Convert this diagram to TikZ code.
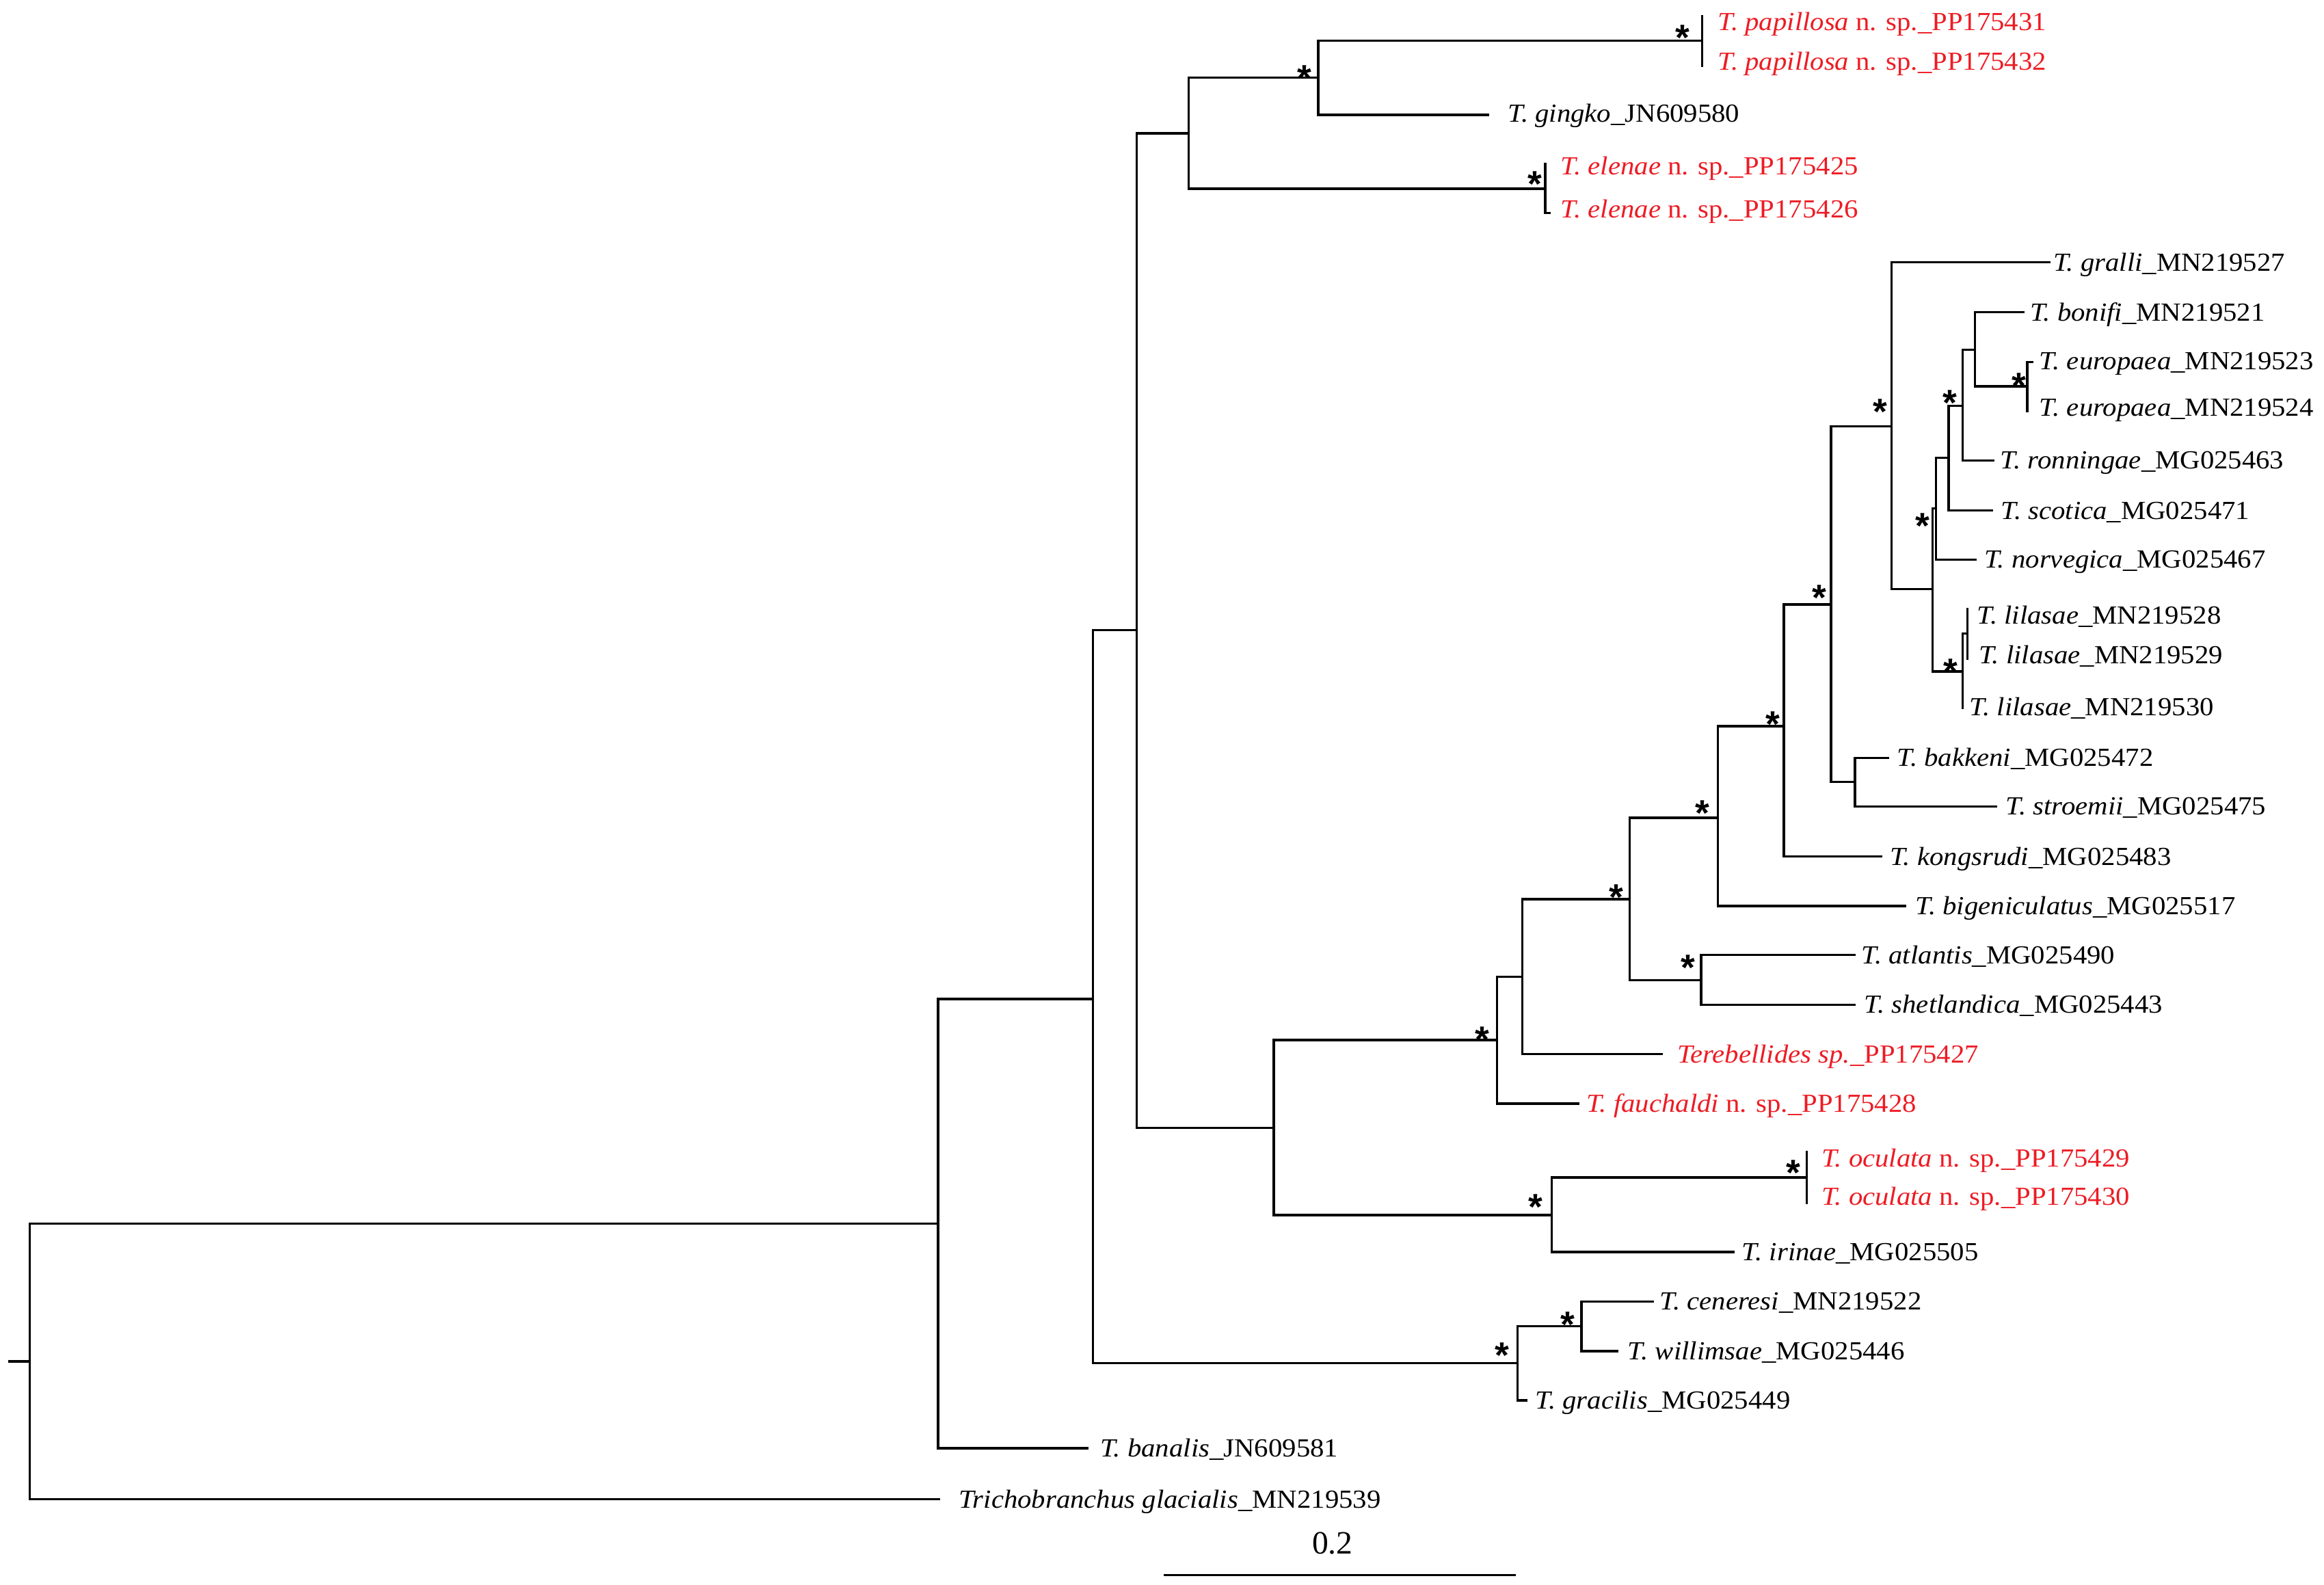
\documentclass[tikz,border=0pt]{standalone}
\usepackage{fontspec}
\setmainfont{Liberation Serif}[FakeStretch=1.07]
\newfontfamily\scalefont{Liberation Serif}
\newfontfamily\starfont{Liberation Sans}
\definecolor{nsp}{RGB}{237,28,36}
\begin{document}
\begin{tikzpicture}[x=0.2mm,y=-0.2mm,
  br/.style={line width=0.9pt,line cap=rect},
  lab/.style={anchor=base west,inner sep=0pt,yshift=-3.3pt,font=\fontsize{10}{12}\selectfont},
  newsp/.style={lab,text=nsp},
  st/.style={anchor=base,inner sep=0pt,yshift=-8pt,font=\starfont\bfseries\fontsize{14}{14}\selectfont}]
\useasboundingbox (0,0) rectangle (1568,1069);
% internal nodes
\coordinate (R0) at (6.2,918.4);
\coordinate (R) at (20,918.4);
\coordinate (A) at (633,825.6);
\coordinate (B) at (737.5,674);
\coordinate (C) at (767,425);
\coordinate (D) at (1023.8,919.7);
\coordinate (E) at (802,90);
\coordinate (F) at (859.5,761);
\coordinate (G) at (889.3,52.3);
\coordinate (H) at (1042.5,127.3);
\coordinate (P) at (1148.3,27.4);
\coordinate (I) at (1010.1,701.7);
\coordinate (J) at (1047,819.8);
\coordinate (K) at (1027,658.9);
\coordinate (L) at (1099.6,606.6);
\coordinate (M) at (1158.9,551.7);
\coordinate (N) at (1147.8,661.2);
\coordinate (O) at (1203.6,490);
\coordinate (Q) at (1235.4,407.8);
\coordinate (S) at (1276.3,287.5);
\coordinate (T) at (1251.6,527.6);
\coordinate (U) at (1304,397.5);
\coordinate (V) at (1306.3,343);
\coordinate (W) at (1314.8,308.8);
\coordinate (X) at (1324.3,273.7);
\coordinate (Y) at (1332.5,236);
\coordinate (Z) at (1367.8,260.6);
\coordinate (L1) at (1324.3,453);
\coordinate (L2) at (1327.3,427.5);
\coordinate (OC) at (1219,794.4);
\coordinate (CW) at (1067,894.6);
% tips
\coordinate (tTri) at (633.5,1011.5);
\coordinate (tBan) at (733.5,977);
\coordinate (tPap1) at (1148.3,10.8);
\coordinate (tPap2) at (1148.3,44.6);
\coordinate (tGin) at (1003.8,77.4);
\coordinate (tEle1) at (1042.5,110.7);
\coordinate (tEle2) at (1045.5,143.8);
\coordinate (tFau) at (1064.7,744.6);
\coordinate (tTsp) at (1121,711.2);
\coordinate (tBig) at (1285.5,611.3);
\coordinate (tKon) at (1269,577.9);
\coordinate (tGra) at (1382.6,176.8);
\coordinate (tNor) at (1333,377.5);
\coordinate (tSco) at (1344,344.4);
\coordinate (tRon) at (1344.8,310.6);
\coordinate (tBon) at (1365,210.7);
\coordinate (tEur1) at (1371.3,244.2);
\coordinate (tEur2) at (1367.8,277.6);
\coordinate (tLil1) at (1327.3,410.9);
\coordinate (tLil2) at (1327.3,444.4);
\coordinate (tLil3) at (1324.3,477.5);
\coordinate (tBak) at (1274,511.3);
\coordinate (tStr) at (1346.7,544);
\coordinate (tAtl) at (1251,644.3);
\coordinate (tShe) at (1251,677.8);
\coordinate (tOc1) at (1219,777);
\coordinate (tOc2) at (1219,811.7);
\coordinate (tIri) at (1169.6,844.7);
\coordinate (tGrc) at (1029.7,944.8);
\coordinate (tCen) at (1115,878);
\coordinate (tWil) at (1091,911.6);
% branches
\draw[br] (R0) -- (R);
\draw[br] (R) |- (A); \draw[br] (R) |- (tTri);
\draw[br] (A) |- (B); \draw[br] (A) |- (tBan);
\draw[br] (B) |- (C); \draw[br] (B) |- (D);
\draw[br] (C) |- (E); \draw[br] (C) |- (F);
\draw[br] (E) |- (G); \draw[br] (E) |- (H);
\draw[br] (G) |- (P); \draw[br] (G) |- (tGin);
\draw[br] (P) |- (tPap1); \draw[br] (P) |- (tPap2);
\draw[br] (H) |- (tEle1); \draw[br] (H) |- (tEle2);
\draw[br] (F) |- (I); \draw[br] (F) |- (J);
\draw[br] (I) |- (K); \draw[br] (I) |- (tFau);
\draw[br] (K) |- (L); \draw[br] (K) |- (tTsp);
\draw[br] (L) |- (M); \draw[br] (L) |- (N);
\draw[br] (M) |- (O); \draw[br] (M) |- (tBig);
\draw[br] (O) |- (Q); \draw[br] (O) |- (tKon);
\draw[br] (Q) |- (S); \draw[br] (Q) |- (T);
\draw[br] (S) |- (tGra); \draw[br] (S) |- (U);
\draw[br] (U) |- (V); \draw[br] (U) |- (L1);
\draw[br] (V) |- (W); \draw[br] (V) |- (tNor);
\draw[br] (W) |- (X); \draw[br] (W) |- (tSco);
\draw[br] (X) |- (Y); \draw[br] (X) |- (tRon);
\draw[br] (Y) |- (tBon); \draw[br] (Y) |- (Z);
\draw[br] (Z) |- (tEur1); \draw[br] (Z) |- (tEur2);
\draw[br] (L1) |- (L2); \draw[br] (L1) |- (tLil3);
\draw[br] (L2) |- (tLil1); \draw[br] (L2) |- (tLil2);
\draw[br] (T) |- (tBak); \draw[br] (T) |- (tStr);
\draw[br] (N) |- (tAtl); \draw[br] (N) |- (tShe);
\draw[br] (J) |- (OC); \draw[br] (J) |- (tIri);
\draw[br] (OC) |- (tOc1); \draw[br] (OC) |- (tOc2);
\draw[br] (D) |- (CW); \draw[br] (D) |- (tGrc);
\draw[br] (CW) |- (tCen); \draw[br] (CW) |- (tWil);
% labels
\node[newsp] (lPap1) at (1158.7,14.5) {\textit{T. papillosa} n. sp.\_PP175431};
\node[newsp] (lPap2) at (1158.7,41.5) {\textit{T. papillosa} n. sp.\_PP175432};
\node[lab] (lGin) at (1017,76.5) {\textit{T. gingko}\_JN609580};
\node[newsp] (lEle1) at (1052.7,112) {\textit{T. elenae} n. sp.\_PP175425};
\node[newsp] (lEle2) at (1052.7,141) {\textit{T. elenae} n. sp.\_PP175426};
\node[lab] (lGra) at (1385,177) {\textit{T. gralli}\_MN219527};
\node[lab] (lBon) at (1369.3,211) {\textit{T. bonifi}\_MN219521};
\node[lab] (lEur1) at (1375.7,243.5) {\textit{T. europaea}\_MN219523};
\node[lab] (lEur2) at (1375.7,275) {\textit{T. europaea}\_MN219524};
\node[lab] (lRon) at (1349.4,310.6) {\textit{T. ronningae}\_MG025463};
\node[lab] (lSco) at (1349.6,344.4) {\textit{T. scotica}\_MG025471};
\node[lab] (lNor) at (1338.5,377.5) {\textit{T. norvegica}\_MG025467};
\node[lab] (lLil1) at (1333.5,415) {\textit{T. lilasae}\_MN219528};
\node[lab] (lLil2) at (1334.7,441.7) {\textit{T. lilasae}\_MN219529};
\node[lab] (lLil3) at (1328.6,476.8) {\textit{T. lilasae}\_MN219530};
\node[lab] (lBak) at (1279.5,511.3) {\textit{T. bakkeni}\_MG025472};
\node[lab] (lStr) at (1353,544) {\textit{T. stroemii}\_MG025475};
\node[lab] (lKon) at (1274.8,578) {\textit{T. kongsrudi}\_MG025483};
\node[lab] (lBig) at (1292,611.3) {\textit{T. bigeniculatus}\_MG025517};
\node[lab] (lAtl) at (1255.6,644.3) {\textit{T. atlantis}\_MG025490};
\node[lab] (lShe) at (1257.5,677.8) {\textit{T. shetlandica}\_MG025443};
\node[newsp] (lTsp) at (1131.3,711.2) {\textit{Terebellides sp.}\_PP175427};
\node[newsp] (lFau) at (1070,744.6) {\textit{T. fauchaldi} n. sp.\_PP175428};
\node[newsp] (lOc1) at (1228.6,781.5) {\textit{T. oculata} n. sp.\_PP175429};
\node[newsp] (lOc2) at (1228.6,807.4) {\textit{T. oculata} n. sp.\_PP175430};
\node[lab] (lIri) at (1175,844.7) {\textit{T. irinae}\_MG025505};
\node[lab] (lCen) at (1119.6,878) {\textit{T. ceneresi}\_MN219522};
\node[lab] (lWil) at (1098,911.6) {\textit{T. willimsae}\_MG025446};
\node[lab] (lGrc) at (1035.5,944.8) {\textit{T. gracilis}\_MG025449};
\node[lab] (lBan) at (742,977) {\textit{T. banalis}\_JN609581};
\node[lab] (lTri) at (646.6,1011.5) {\textit{Trichobranchus glacialis}\_MN219539};
% support stars
\node[st] (s1) at (1135.2,19.7) {*};
\node[st] (s2) at (880.2,46.9) {*};
\node[st] (s3) at (1035.5,118.4) {*};
\node[st] (s4) at (1268.6,272.2) {*};
\node[st] (s5) at (1315.5,266) {*};
\node[st] (s6) at (1362,254.5) {*};
\node[st] (s7) at (1297,349) {*};
\node[st] (s8) at (1227.4,397.5) {*};
\node[st] (s9) at (1316,447.5) {*};
\node[st] (s10) at (1196,483) {*};
\node[st] (s11) at (1148.5,542.8) {*};
\node[st] (s12) at (1090.4,599.7) {*};
\node[st] (s13) at (1139,647.4) {*};
\node[st] (s14) at (1000.1,695.8) {*};
\node[st] (s15) at (1210,785.5) {*};
\node[st] (s16) at (1036,808.6) {*};
\node[st] (s17) at (1057.7,888) {*};
\node[st] (s18) at (1013.6,909) {*};
% scale bar
\coordinate (sb1) at (785.8,1062.5);
\coordinate (sb2) at (1022,1062.5);
\draw[br] (sb1) -- (sb2);
\node[anchor=base,inner sep=0pt,font=\scalefont\fontsize{12.5}{14}\selectfont] (sbl) at (899,1048.4) {0.2};
\end{tikzpicture}
\end{document}
